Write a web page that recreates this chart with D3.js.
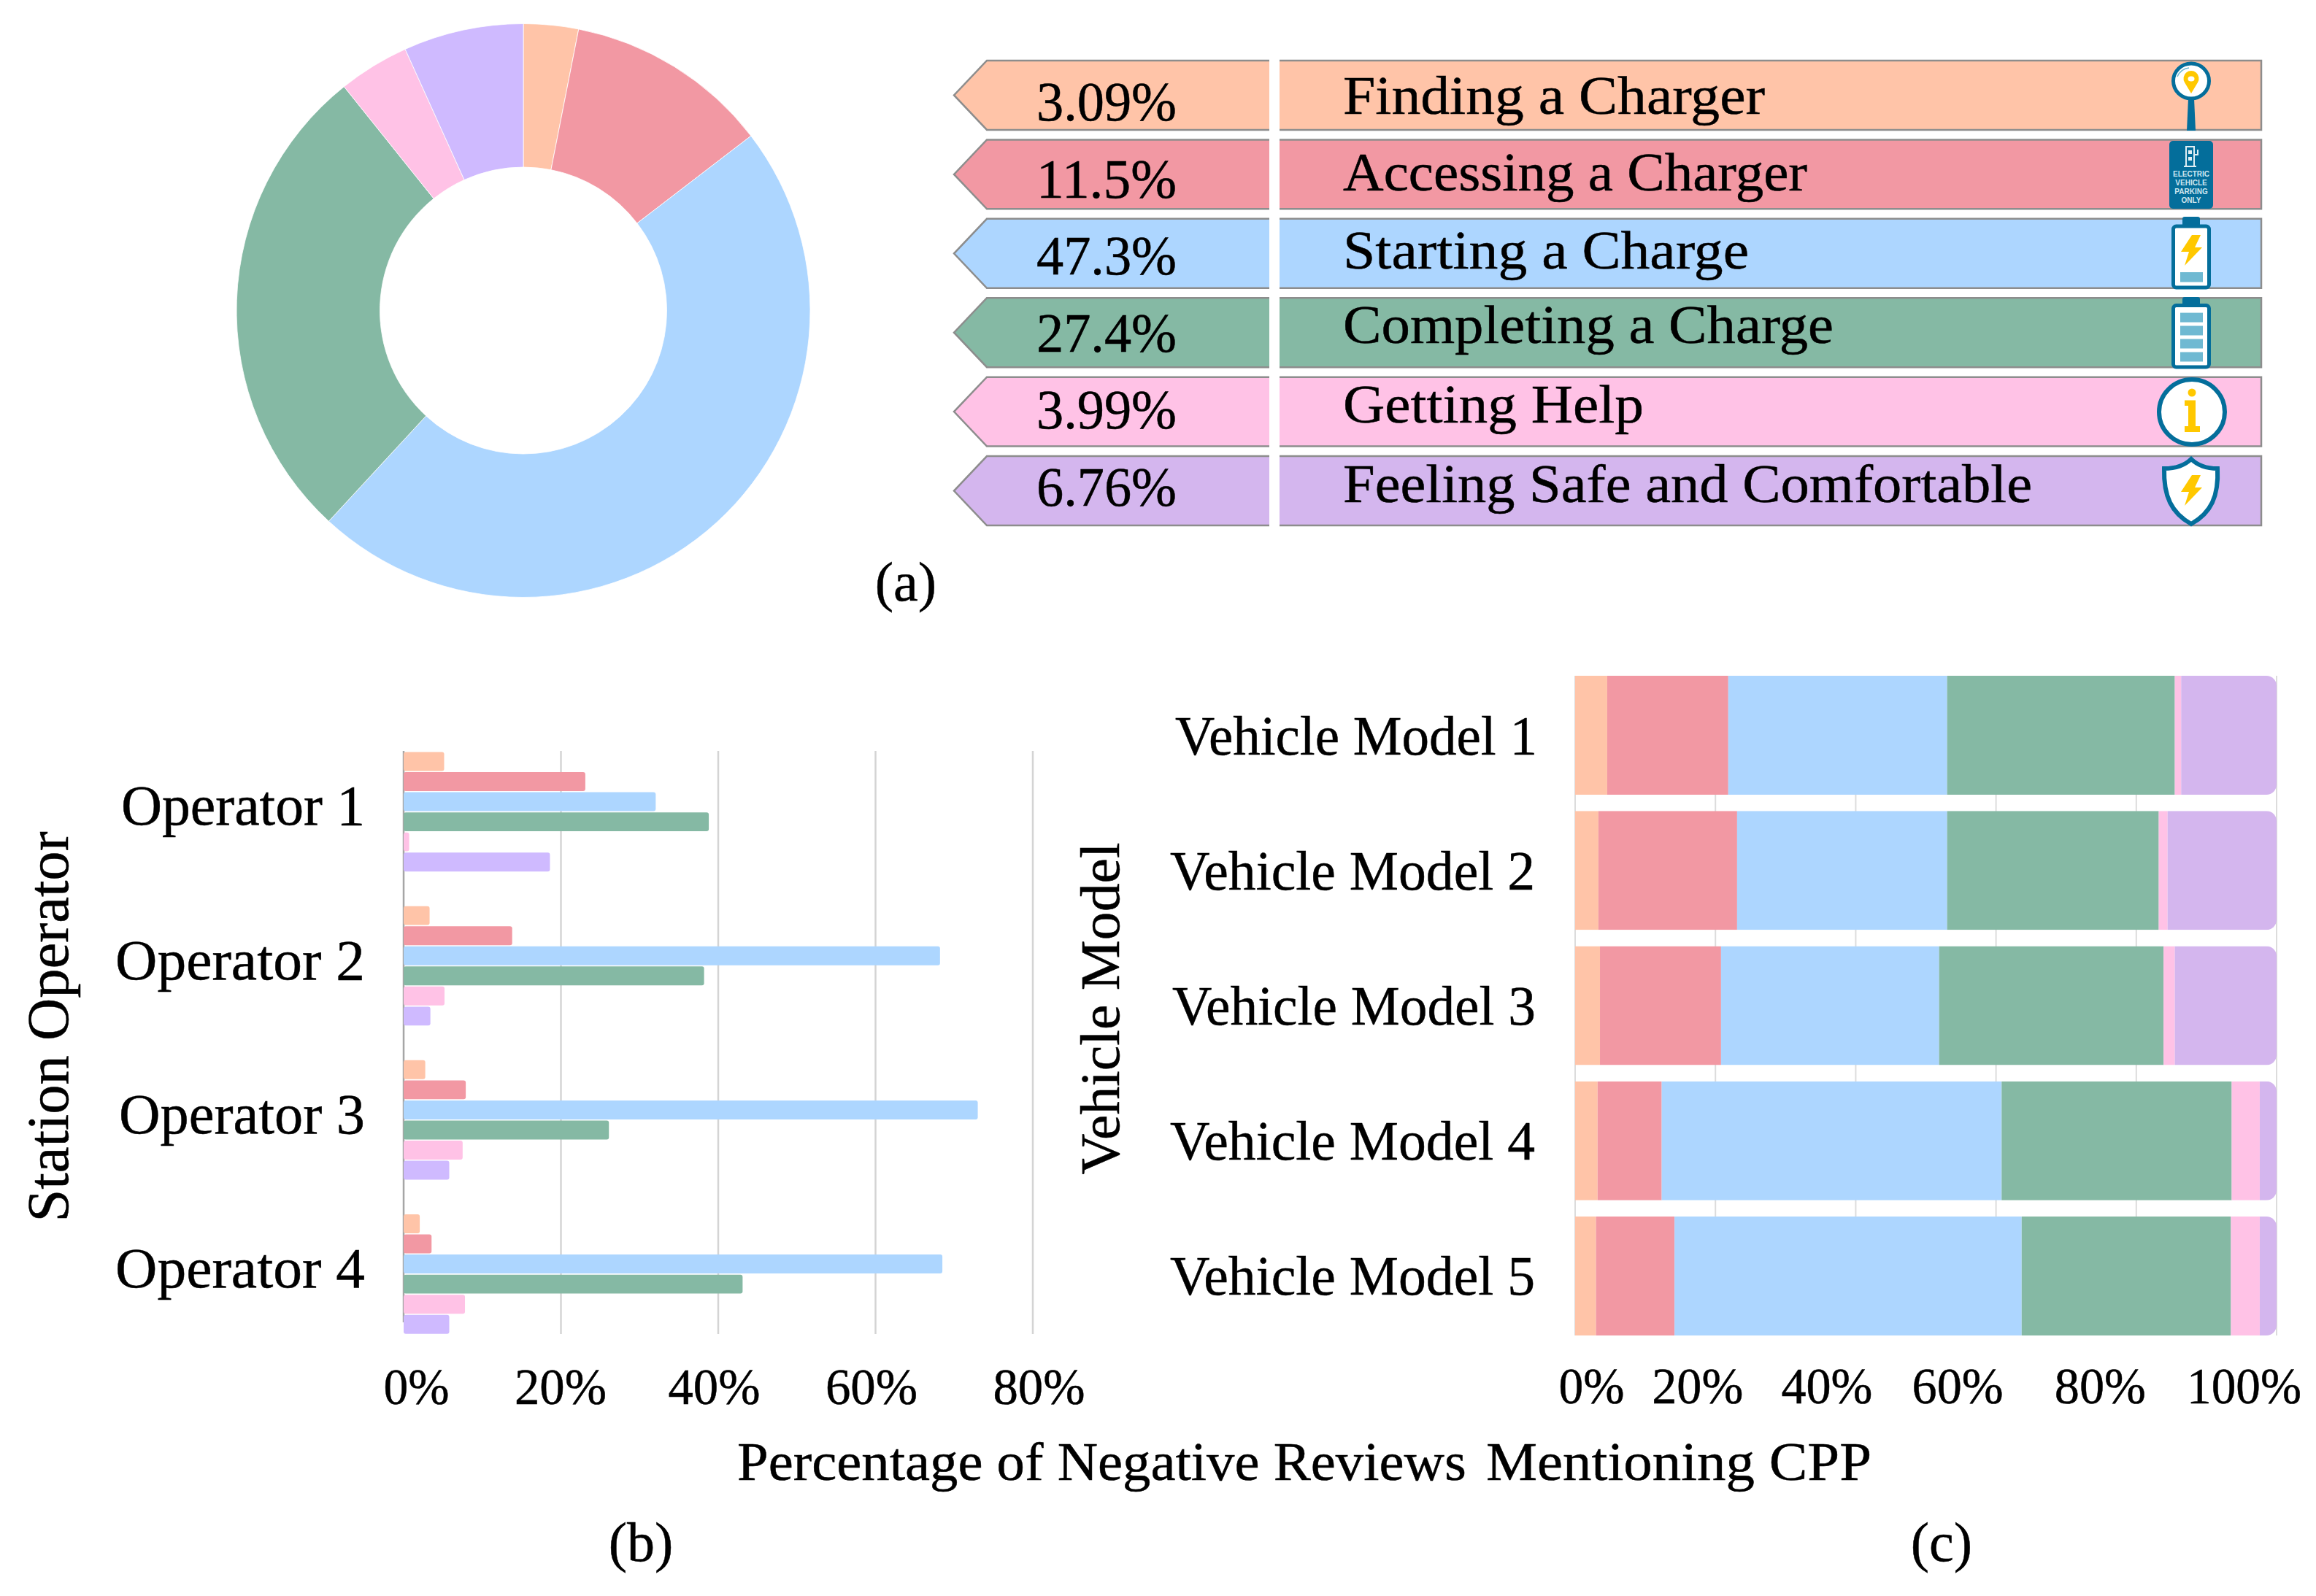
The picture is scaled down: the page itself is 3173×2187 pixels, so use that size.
<!DOCTYPE html>
<html>
<head>
<meta charset="utf-8">
<script src="https://cdn.jsdelivr.net/npm/d3@7"></script>
<style>
html,body{margin:0;padding:0;background:#fff}
svg{display:block}
text{font-family:"Liberation Serif","Times New Roman",serif;fill:#000;stroke:#000;stroke-width:.5px}
</style>
</head>
<body>
<svg id="chart" width="3173" height="2187" viewBox="0 0 3173 2187"></svg>
<script>
// ---------- data ----------
const categories = ["Finding a Charger","Accessing a Charger","Starting a Charge","Completing a Charge","Getting Help","Feeling Safe and Comfortable"];
const shares = [3.09,11.5,47.3,27.4,3.99,6.76];
const shareLabels = ["3.09%","11.5%","47.3%","27.4%","3.99%","6.76%"];
const colors = ["#FFC4A8","#F298A3","#ADD6FF","#85B9A4","#FFC2E6","#CFBAFF"];
const stripColors = ["#FFC4A8","#F298A3","#ADD6FF","#85B9A4","#FFC2E6","#D4B6EE"];

const operators = ["Operator 1","Operator 2","Operator 3","Operator 4"];
const operator1 = [5.15,23.1,32.05,38.8,0.7,18.6];
const operator2 = [3.3,13.8,68.2,38.2,5.2,3.4];
const operator3 = [2.75,7.9,73,26.1,7.5,5.8];
const operator4 = [2.05,3.55,68.5,43.1,7.8,5.8];
const operatorValues = [operator1,operator2,operator3,operator4];
const operatorTicks = [0,20,40,60,80];

const vehicles = ["Vehicle Model 1","Vehicle Model 2","Vehicle Model 3","Vehicle Model 4","Vehicle Model 5"];
const vehicle1 = [4.57,17.26,31.2,32.46,0.91,13.6];
const vehicle2 = [3.31,19.78,29.94,30.17,1.26,15.54];
const vehicle3 = [3.54,17.26,31.09,32,1.6,14.51];
const vehicle4 = [3.2,9.14,48.46,32.8,4,2.4];
const vehicle5 = [2.97,11.2,49.49,29.83,4.11,2.4];
const vehicleValues = [vehicle1,vehicle2,vehicle3,vehicle4,vehicle5];
const vehicleTicks = [0,20,40,60,80,100];

const xTitleA = "Percentage of Negative Reviews ";
const xTitleB = "Mentioning CPP";
const yTitleB = "Station Operator";
const yTitleC = "Vehicle Model";

// ---------- helpers ----------
const svg = d3.select("#chart");
svg.append("rect").attr("width",3173).attr("height",2187).attr("fill","#fff");
const fit = (sel,w)=>sel.attr("textLength",w).attr("lengthAdjust","spacingAndGlyphs");
const label = (x,y,t,size,anchor="start")=>svg.append("text").attr("x",x).attr("y",y)
  .attr("font-size",size).attr("text-anchor",anchor).text(t);
const serif = "'Liberation Serif',serif";

// ---------- (a) donut ----------
const pie = d3.pie().sort(null).value(d=>d)(shares);
const arc = d3.arc().innerRadius(196.5).outerRadius(393);
svg.append("g").attr("transform","translate(717,425.5)")
  .selectAll("path").data(pie).join("path")
  .attr("d",arc).attr("fill",(d,i)=>colors[i]).attr("stroke","#fff").attr("stroke-width",.8);

// ---------- (a) strip rows ----------
const rowScale = d3.scaleBand().domain(categories).range([83,720]).paddingInner(0.124);
const rowG = svg.append("g");
const valueBase = [164.5,271,376,482,587,693];
const nameBase = [155.5,260.5,368,470,579,688];
const nameWidth = [578,636,556,672,412,944];
categories.forEach((c,i)=>{
  const y0 = rowScale(c), h = rowScale.bandwidth(), y1 = y0+h;
  rowG.append("path").attr("d",`M1739 ${y0}H1352L1307 ${y0+h/2}L1352 ${y1}H1739Z`).attr("fill",stripColors[i]);
  rowG.append("path").attr("d",`M1739 ${y0}H1352L1307 ${y0+h/2}L1352 ${y1}H1739`)
    .attr("fill","none").attr("stroke","#8d8d8d").attr("stroke-width",2.5);
  rowG.append("rect").attr("x",1753).attr("y",y0).attr("width",1345).attr("height",h).attr("fill",stripColors[i]);
  rowG.append("path").attr("d",`M1753 ${y0}H3098V${y1}H1753`)
    .attr("fill","none").attr("stroke","#8d8d8d").attr("stroke-width",2.5);
  fit(label(1420,valueBase[i],shareLabels[i],76),192);
  fit(label(1840,nameBase[i],c,74),nameWidth[i]);
});

// ---------- icons ----------
const TEAL="#046E9B", YEL="#FFC800", LT="#6FB9D2";
const ic = svg.append("g");
const bolt = (cx,cy,s)=>ic.append("path")
  .attr("d","M1 -21L13 -21L5 -4L15 -4L-9 21L-3 2L-14 2Z")
  .attr("transform",`translate(${cx},${cy}) scale(${s})`).attr("fill",YEL);
// magnifier
ic.append("path").attr("d","M2998 135L3006 135L3008 179L2996 179Z").attr("fill",TEAL);
ic.append("ellipse").attr("cx",3002).attr("cy",111).attr("rx",24.5).attr("ry",24)
  .attr("fill","#fff").attr("stroke",TEAL).attr("stroke-width",5);
ic.append("path").attr("d","M2983 105A20 20 0 0 1 2999 93").attr("fill","none").attr("stroke",LT).attr("stroke-width",1.5);
ic.append("path").attr("d","M3002 128L2993 113A10.5 10.5 0 1 1 3011 113Z").attr("fill",YEL);
ic.append("ellipse").attr("cx",3002).attr("cy",108).attr("rx",4.5).attr("ry",3.5).attr("fill","#fff");
// parking sign
ic.append("rect").attr("x",2972).attr("y",193).attr("width",60).attr("height",93).attr("rx",5).attr("fill",TEAL);
ic.append("path").attr("d","M2995 201H3006V228H2995ZM2992 228H3009M3006 212H3011V205").attr("fill","none").attr("stroke","#dfeef4").attr("stroke-width",2);
ic.append("path").attr("d","M2998 206H3003V211H2998ZM2998 215H3003V220H2998Z").attr("fill","#dfeef4");
["ELECTRIC","VEHICLE","PARKING","ONLY"].forEach((t,i)=>{
  ic.append("text").attr("x",3002).attr("y",[242,254,266,278][i]).attr("text-anchor","middle")
    .attr("font-size",10).attr("font-weight","bold").style("font-family","'Liberation Sans',sans-serif")
    .style("fill","#cfe6ef").style("stroke","none").text(t);
});
// batteries
const battery=(top,bottom,capTop)=>{
  ic.append("rect").attr("x",2990).attr("y",capTop).attr("width",24).attr("height",top-capTop+3).attr("rx",3).attr("fill",TEAL);
  ic.append("rect").attr("x",2977.5).attr("y",top).attr("width",49).attr("height",bottom-top).attr("rx",4)
    .attr("fill","#fff").attr("stroke",TEAL).attr("stroke-width",5);
};
battery(310,394,297);
bolt(3002,343,1);
ic.append("rect").attr("x",2987).attr("y",373).attr("width",31).attr("height",13.5).attr("fill",LT);
battery(418.5,503,407);
[428.6,446.5,464.5,482.5].forEach(y=>ic.append("rect").attr("x",2987).attr("y",y).attr("width",31).attr("height",13).attr("fill",LT));
// info
ic.append("ellipse").attr("cx",3003).attr("cy",564.5).attr("rx",45).attr("ry",44.5)
  .attr("fill","#fff").attr("stroke",TEAL).attr("stroke-width",6);
ic.append("circle").attr("cx",3003).attr("cy",538).attr("r",5.5).attr("fill",YEL);
ic.append("path").attr("d","M2993 548.5H3008V584H3014V592H2993V584H2998V556H2993Z").attr("fill",YEL);
// shield
ic.append("path").attr("d","M3002 629C2992 639 2977 642 2965 642C2964 680 2975 703 3002 718C3029 703 3040 680 3038 642C3027 642 3012 639 3002 629Z")
  .attr("fill","#fff").attr("stroke",TEAL).attr("stroke-width",6);
bolt(3002,672,1);

// ---------- (b) grouped bars ----------
const xB = d3.scaleLinear().domain([0,80]).range([553,1415]);
const groupB = d3.scaleBand().domain(operators).range([1030.5,1827.7]).paddingInner(0.225);
const innerB = d3.scaleBand().domain(categories).range([0,groupB.bandwidth()]).paddingInner(0.058);
const bG = svg.append("g");
bG.selectAll("line").data(operatorTicks).join("line")
  .attr("x1",d=>xB(d)).attr("x2",d=>xB(d)).attr("y1",1029).attr("y2",d=>d===0?1812:1828)
  .attr("stroke",d=>d===0?"#a6a6a6":"#d4d4d4").attr("stroke-width",2.5);
operators.forEach((op,j)=>{
  bG.append("g").attr("transform",`translate(0,${groupB(op)})`)
    .selectAll("rect").data(operatorValues[j]).join("rect")
    .attr("x",xB(0)).attr("y",(d,i)=>innerB(categories[i])).attr("width",d=>xB(d)-xB(0))
    .attr("height",innerB.bandwidth()).attr("rx",3).attr("fill",(d,i)=>colors[i]);
});
const axBL = svg.append("g").attr("transform","translate(553,0)")
  .call(d3.axisLeft(groupB).tickSize(0));
axBL.select(".domain").remove();
const opWidth=[334,342,337,342];
axBL.selectAll("text").attr("x",-53).attr("dy",18).attr("font-size",78)
  .style("font-family",serif).attr("textLength",(d,i)=>opWidth[i]).attr("lengthAdjust","spacingAndGlyphs");
const axBB = svg.append("g").attr("transform","translate(0,1924)")
  .call(d3.axisBottom(xB).tickValues(operatorTicks).tickFormat(d=>d+"%").tickSize(0));
axBB.select(".domain").remove();
const offB=[17,-1,-6,-6,8];
axBB.selectAll("text").attr("y",0).attr("dy",0).attr("font-size",70).attr("dx",(d,i)=>offB[i])
  .style("font-family",serif).attr("textLength",d=>d===0?90:126).attr("lengthAdjust","spacingAndGlyphs");

// ---------- (c) stacked bars ----------
const xC = d3.scaleLinear().domain([0,100]).range([2158,3119]);
const yC = d3.scaleBand().domain(vehicles).range([926,1830]).paddingInner(0.12);
const table = vehicles.map((v,j)=>{const o={vehicle:v};categories.forEach((c,i)=>o[c]=vehicleValues[j][i]);return o;});
const stacked = d3.stack().keys(categories)(table);
const cG = svg.append("g");
cG.selectAll("line").data(vehicleTicks).join("line")
  .attr("x1",d=>xC(d)).attr("x2",d=>xC(d)).attr("y1",926).attr("y2",1830)
  .attr("stroke","#dcdcdc").attr("stroke-width",2);
const defs = svg.append("defs");
vehicles.forEach((v,j)=>{
  defs.append("clipPath").attr("id","clip"+j).append("rect")
    .attr("x",xC(0)-20).attr("y",yC(v)).attr("width",xC(100)-xC(0)+20).attr("height",yC.bandwidth()).attr("rx",14);
  const row = cG.append("g").attr("clip-path",`url(#clip${j})`);
  stacked.forEach((s,i)=>{
    row.append("rect").attr("x",xC(s[j][0])).attr("y",yC(v))
      .attr("width",xC(s[j][1])-xC(s[j][0])).attr("height",yC.bandwidth())
      .attr("fill",stripColors[i]);
  });
});
const axCL = svg.append("g").attr("transform","translate(2158,0)")
  .call(d3.axisLeft(yC).tickSize(0));
axCL.select(".domain").remove();
const vehWidth=[496,500,498,500,500], vehRight=[-52,-55,-54,-55,-55];
axCL.selectAll("text").attr("x",(d,i)=>vehRight[i]).attr("dy",26).attr("font-size",76)
  .style("font-family",serif).attr("textLength",(d,i)=>vehWidth[i]).attr("lengthAdjust","spacingAndGlyphs");
const axCB = svg.append("g").attr("transform","translate(0,1923)")
  .call(d3.axisBottom(xC).tickValues(vehicleTicks).tickFormat(d=>d+"%").tickSize(0));
axCB.select(".domain").remove();
const offC=[22,-25,-40,-53,-50,-45];
axCB.selectAll("text").attr("y",0).attr("dy",0).attr("font-size",70).attr("dx",(d,i)=>offC[i])
  .style("font-family",serif).attr("textLength",d=>d===0?90:d===100?157:125).attr("lengthAdjust","spacingAndGlyphs");

// ---------- titles ----------
const xt = svg.append("text").attr("y",2028).attr("font-size",74);
xt.append("tspan").attr("x",1010).text(xTitleA.trim()+" ").attr("textLength",1018).attr("lengthAdjust","spacingAndGlyphs");
xt.append("tspan").attr("x",2036).text(xTitleB).attr("textLength",528).attr("lengthAdjust","spacingAndGlyphs");
const rot=(x,y,t,size,w)=>fit(svg.append("text").attr("transform",`translate(${x},${y}) rotate(-90)`)
  .attr("font-size",size).attr("text-anchor","middle").text(t),w);
rot(93,1407,yTitleB,80,535);
rot(1533,1382,yTitleC,76,455);
label(1241,823,"(a)",76,"middle");
label(878,2139,"(b)",76,"middle");
label(2660,2139,"(c)",76,"middle");
</script>
</body>
</html>
